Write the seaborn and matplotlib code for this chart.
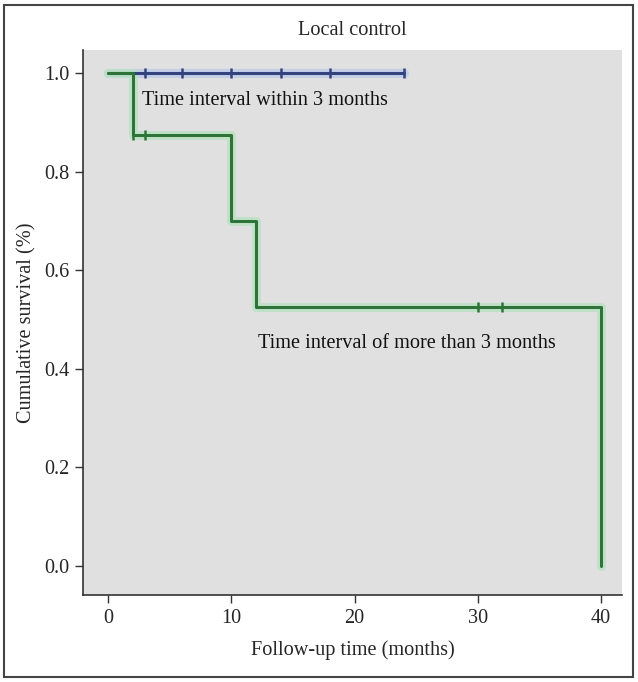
import numpy as np
import pandas as pd
import matplotlib
matplotlib.use("Agg")
import matplotlib.pyplot as plt
import seaborn as sns
from matplotlib.patches import Rectangle

# Kaplan-Meier steps
within_time = [0, 24]
within_surv = [1.0, 1.0]
within_cens_time = [3, 6, 10, 14, 18, 24]
within_cens_surv = [1.0, 1.0, 1.0, 1.0, 1.0, 1.0]

more_time = [0, 2, 10, 12, 40]
more_surv = [1.0, 0.875, 0.70, 0.525, 0.0]
more_cens_time = [2, 3, 30, 32]
more_cens_surv = [0.875, 0.875, 0.525, 0.525]

x_ticks = [0, 10, 20, 30, 40]
y_ticks = [0.0, 0.2, 0.4, 0.6, 0.8, 1.0]

blue = "#34427e"
blue_halo = "#bccbea"
green = "#2e7439"
green_halo = "#b9e2c2"

sns.set_style("ticks", {"axes.facecolor": "#e0e0e0"})
plt.rcParams["font.family"] = ["Liberation Serif", "DejaVu Serif"]
fs = 14.6

fig = plt.figure(figsize=(6.38, 6.82), dpi=100)
ax = fig.add_axes([0.130, 0.1276, 0.845, 0.7991])

df_within = pd.DataFrame({"t": within_time, "s": within_surv})
df_more = pd.DataFrame({"t": more_time, "s": more_surv})

# light halos under the curves
sns.lineplot(data=df_within, x="t", y="s", ax=ax, color=blue_halo, lw=6.5,
             drawstyle="steps-post", estimator=None, alpha=0.8)
sns.lineplot(data=df_more, x="t", y="s", ax=ax, color=green_halo, lw=6.5,
             drawstyle="steps-post", estimator=None, alpha=0.8)

sns.lineplot(data=df_within, x="t", y="s", ax=ax, color=blue, lw=2.2,
             drawstyle="steps-post", estimator=None)
sns.lineplot(data=df_more, x="t", y="s", ax=ax, color=green, lw=2.2,
             drawstyle="steps-post", estimator=None)

sns.scatterplot(x=within_cens_time, y=within_cens_surv, ax=ax, marker="|",
                s=45, color=blue, linewidth=1.8, zorder=5)
sns.scatterplot(x=more_cens_time, y=more_cens_surv, ax=ax, marker="|",
                s=45, color=green, linewidth=1.8, zorder=5)

ax.text(2.8, 0.945, "Time interval within 3 months", fontsize=fs,
        va="center", ha="left", color="#111111")
ax.text(12.2, 0.452, "Time interval of more than 3 months", fontsize=fs,
        va="center", ha="left", color="#111111")

ax.set_xlim(-2.03, 41.7)
ax.set_ylim(-0.059, 1.047)
ax.set_xticks(x_ticks)
ax.set_yticks(y_ticks)
ax.set_yticklabels([f"{v:.1f}" for v in y_ticks])
ax.tick_params(labelsize=fs, length=6, width=1, color="#333333", pad=4)

ax.set_title("Local control", fontsize=fs, pad=11)
ax.set_xlabel("Follow-up time (months)", fontsize=fs, labelpad=9)
ax.set_ylabel("Cumulative survival (%)", fontsize=fs, labelpad=5)

sns.despine(ax=ax)
for side in ["left", "bottom"]:
    ax.spines[side].set_color("#333333")
    ax.spines[side].set_linewidth(1.2)

# outer frame around the whole figure
fig.patches.append(Rectangle((4 / 638, 5 / 682), 629 / 638, 672 / 682,
                             transform=fig.transFigure, fill=False,
                             edgecolor="#444444", linewidth=1.5))

fig.savefig("out.png", dpi=100)
